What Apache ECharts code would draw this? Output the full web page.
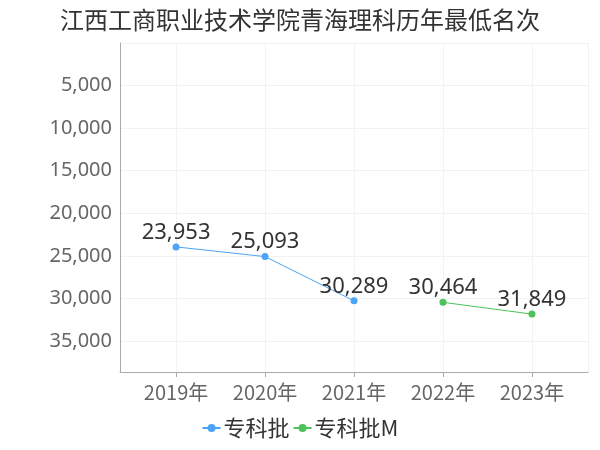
<!DOCTYPE html>
<html><head><meta charset="utf-8">
<script src="https://cdn.jsdelivr.net/npm/echarts@6/dist/echarts.min.js"></script>
<style>html,body{margin:0;padding:0;background:#fff}#c{width:600px;height:450px}</style>
</head><body><div id="c"></div>
<script>
const years = [2019, 2020, 2021, 2022, 2023];
const seriesNames = ['专科批', '专科批M'];
const s1 = [23953, 25093, 30289, null, null];
const s2 = [null, null, null, 30464, 31849];
const colors = ['#4da3f5', '#4cc25a'];

const chart = echarts.init(document.getElementById('c'));
const fmt = v => v.toLocaleString('en-US');
const toPairs = arr => years.map((y, i) => [y, arr[i]]).filter(p => p[1] != null);
chart.setOption({
  animation: false,
  title: { text: '江西工商职业技术学院青海理科历年最低名次', left: 'center', top: 3,
    textStyle: { fontSize: 24, fontWeight: 'normal', color: '#333', fontFamily: 'Noto Sans CJK SC' } },
  legend: { bottom: 6, itemGap: 3, itemWidth: 18, itemHeight: 10,
    textStyle: { fontSize: 22, color: '#333', fontFamily: 'Noto Sans CJK SC', padding: [0, 0, 0, -2] },
    data: seriesNames },
  grid: { left: 120, right: 12, top: 43, bottom: 78 },
  xAxis: { type: 'value', min: 2018.37, max: 2023.63,
    axisLine: { show: true, onZero: false, lineStyle: { color: '#aaa' } },
    axisTick: { show: true, lineStyle: { color: '#aaa' } },
    splitLine: { show: true, lineStyle: { color: '#f2f2f2' } },
    axisLabel: { fontSize: 20, color: '#666', margin: 10, showMinLabel: false, showMaxLabel: false,
      fontFamily: 'Noto Sans CJK SC',
      formatter: v => Number.isInteger(v) ? v + '年' : '' } },
  yAxis: { type: 'value', inverse: true, min: 0, max: 38650, interval: 5000,
    axisLine: { show: true, lineStyle: { color: '#aaa' } },
    axisTick: { show: false },
    splitLine: { show: true, lineStyle: { color: '#f2f2f2' } },
    axisLabel: { fontSize: 20, color: '#666', margin: 8, showMinLabel: false, showMaxLabel: false,
      fontFamily: 'Noto Sans', formatter: v => fmt(v) } },
  series: [
    { name: seriesNames[0], type: 'line', data: toPairs(s1), color: colors[0],
      symbol: 'circle', symbolSize: 7, lineStyle: { width: 1 },
      label: { show: true, position: 'top', fontSize: 22, color: '#333', distance: 0, fontFamily: 'Noto Sans',
        formatter: p => fmt(p.value[1]) } },
    { name: seriesNames[1], type: 'line', data: toPairs(s2), color: colors[1],
      symbol: 'circle', symbolSize: 7, lineStyle: { width: 1 },
      label: { show: true, position: 'top', fontSize: 22, color: '#333', distance: 0, fontFamily: 'Noto Sans',
        formatter: p => fmt(p.value[1]) } }
  ]
});
</script></body></html>
